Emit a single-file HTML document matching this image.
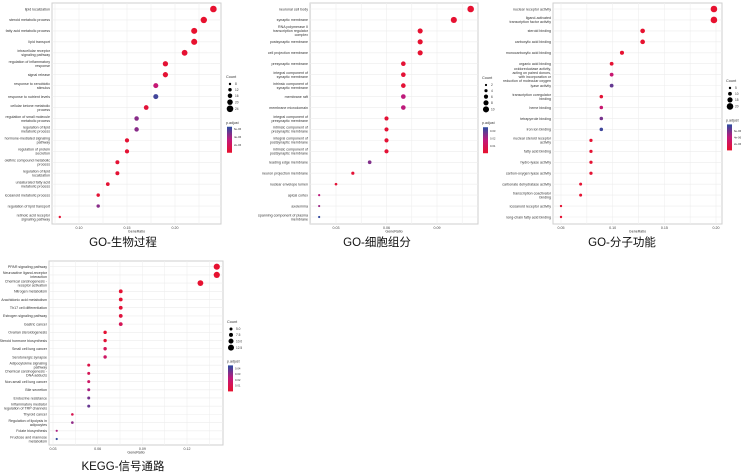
<!DOCTYPE html>
<html><head><meta charset="utf-8"><style>
body{margin:0;background:#fff;}
svg{display:block;font-family:"Liberation Sans","Noto Sans CJK SC",sans-serif;}
</style></head><body>
<svg id="chart" width="741" height="475" viewBox="0 0 741 475"></svg>
<script>
// ---- Panel 1: GO-BP ----
const bpTerms=["lipid localization","steroid metabolic process","fatty acid metabolic process","lipid transport","intracellular receptor\nsignaling pathway","regulation of inflammatory\nresponse","signal release","response to xenobiotic\nstimulus","response to nutrient levels","cellular ketone metabolic\nprocess","regulation of small molecule\nmetabolic process","regulation of lipid\nmetabolic process","hormone-mediated signaling\npathway","regulation of protein\nsecretion","olefinic compound metabolic\nprocess","regulation of lipid\nlocalization","unsaturated fatty acid\nmetabolic process","icosanoid metabolic process","regulation of lipid transport","retinoic acid receptor\nsignaling pathway"];
const bpRatio=[0.24,0.23,0.22,0.22,0.21,0.19,0.19,0.18,0.18,0.17,0.16,0.16,0.15,0.15,0.14,0.14,0.13,0.12,0.12,0.08];
const bpCount=[24,23,22,22,21,19,19,18,18,17,16,16,15,15,14,14,13,12,12,8];
const bpPadj=[1e-7,1e-7,1e-7,1e-7,2e-7,3e-7,3e-7,3e-6,6e-6,5e-7,4.5e-6,4.5e-6,3e-7,3e-7,3e-7,3e-7,3e-7,3e-7,4.5e-6,3e-7];
const bpTicks=[0.10,0.15,0.20];
const bpCountLegend=[8,12,16,20,24];
const bpPLegend=[6e-6,4e-6,2e-6];
const bpPLegendText=["6e-06","4e-06","2e-06"];
// ---- Panel 2: GO-CC ----
const ccTerms=["neuronal cell body","synaptic membrane","RNA polymerase II\ntranscription regulator\ncomplex","postsynaptic membrane","cell projection membrane","presynaptic membrane","integral component of\nsynaptic membrane","intrinsic component of\nsynaptic membrane","membrane raft","membrane microdomain","integral component of\npresynaptic membrane","intrinsic component of\npresynaptic membrane","integral component of\npostsynaptic membrane","intrinsic component of\npostsynaptic membrane","leading edge membrane","neuron projection membrane","nuclear envelope lumen","apical cortex","axolemma","spanning component of plasma\nmembrane"];
const ccRatio=[0.11,0.10,0.08,0.08,0.08,0.07,0.07,0.07,0.07,0.07,0.06,0.06,0.06,0.06,0.05,0.04,0.03,0.02,0.02,0.02];
const ccCount=[11,10,8,8,8,7,7,7,7,7,6,6,6,6,5,4,3,2,2,2];
const ccPadj=[0.001,0.001,0.001,0.001,0.001,0.002,0.002,0.002,0.018,0.018,0.002,0.002,0.002,0.002,0.025,0.002,0.002,0.018,0.022,0.034];
const ccTicks=[0.03,0.06,0.09];
const ccCountLegend=[2,4,6,8,10];
const ccPLegend=[0.03,0.02,0.01];
const ccPLegendText=["0.03","0.02","0.01"];
// ---- Panel 3: GO-MF ----
const mfTerms=["nuclear receptor activity","ligand-activated\ntranscription factor activity","steroid binding","carboxylic acid binding","monocarboxylic acid binding","organic acid binding","oxidoreductase activity,\nacting on paired donors,\nwith incorporation or\nreduction of molecular oxygen","lyase activity","transcription coregulator\nbinding","heme binding","tetrapyrrole binding","iron ion binding","nuclear steroid receptor\nactivity","fatty acid binding","hydro-lyase activity","carbon-oxygen lyase activity","carbonate dehydratase activity","transcription coactivator\nbinding","icosanoid receptor activity","long-chain fatty acid binding"];
const mfRatio=[0.198,0.198,0.129,0.129,0.109,0.099,0.099,0.099,0.089,0.089,0.089,0.089,0.079,0.079,0.079,0.079,0.069,0.069,0.05,0.05];
const mfCount=[20,20,13,13,11,10,10,10,9,9,9,9,8,8,8,8,7,7,5,5];
const mfPadj=[1e-7,1e-7,1e-7,1e-7,2e-7,3e-7,3.5e-6,6.5e-6,4e-7,3.5e-6,6e-6,7.5e-6,3e-7,3e-7,3e-7,3e-7,3e-7,3e-7,3e-7,3e-7];
const mfTicks=[0.05,0.10,0.15,0.20];
const mfCountLegend=[5,10,15,20];
const mfPLegend=[6e-6,4e-6,2e-6];
const mfPLegendText=["6e-06","4e-06","2e-06"];
// ---- Panel 4: KEGG ----
const kgTerms=["PPAR signaling pathway","Neuroactive ligand-receptor\ninteraction","Chemical carcinogenesis -\nreceptor activation","Nitrogen metabolism","Arachidonic acid metabolism","Th17 cell differentiation","Estrogen signaling pathway","Gastric cancer","Ovarian steroidogenesis","Steroid hormone biosynthesis","Small cell lung cancer","Serotonergic synapse","Adipocytokine signaling\npathway","Chemical carcinogenesis -\nDNA adducts","Non-small cell lung cancer","Bile secretion","Endocrine resistance","Inflammatory mediator\nregulation of TRP channels","Thyroid cancer","Regulation of lipolysis in\nadipocytes","Folate biosynthesis","Fructose and mannose\nmetabolism"];
const kgRatio=[0.14,0.14,0.129,0.0755,0.0755,0.0755,0.0755,0.0755,0.065,0.065,0.065,0.065,0.054,0.054,0.054,0.054,0.054,0.054,0.043,0.043,0.0325,0.0325];
const kgCount=[13,13,12,7,7,7,7,7,6,6,6,6,5,5,5,5,5,5,4,4,3,3];
const kgPadj=[0.001,0.001,0.001,0.002,0.002,0.003,0.005,0.012,0.002,0.003,0.012,0.016,0.008,0.012,0.016,0.026,0.034,0.036,0.01,0.03,0.026,0.044];
const kgTicks=[0.03,0.06,0.09,0.12];
const kgCountLegend=[5.0,7.5,10.0,12.5];
const kgCountLegendText=["5.0","7.5","10.0","12.5"];
const kgPLegend=[0.04,0.03,0.02,0.01];
const kgPLegendText=["0.04","0.03","0.02","0.01"];

const svg=document.getElementById('chart');
const NS='http://www.w3.org/2000/svg';
function mk(tag,attrs,parent){const e=document.createElementNS(NS,tag);for(const k in attrs)e.setAttribute(k,attrs[k]);(parent||svg).appendChild(e);return e;}
function lerp(a,b,t){return a.map((v,i)=>Math.round(v+(b[i]-v)*t));}
function colorOf(t){t=Math.max(0,Math.min(1,t));const r=[232,17,45],m=[194,24,122],b=[43,77,160];const c=t<0.5?lerp(r,m,t/0.5):lerp(m,b,(t-0.5)/0.5);return 'rgb('+c.join(',')+')';}

function panel(cfg){
  const g=mk('g',{});
  
  
  const L=cfg.box[0],T=cfg.box[1],R=cfg.box[2],B=cfg.box[3];
  const x=v=>cfg.x0px+(v-cfg.x0)*(cfg.x1px-cfg.x0px)/(cfg.x1-cfg.x0);
  const n=cfg.terms.length;
  const y=i=>cfg.yTop+i*(cfg.yBot-cfg.yTop)/(n-1);
  const bg=mk('rect',{x:L,y:T,width:R-L,height:B-T,fill:'#fff',stroke:'#cfcfcf','stroke-width':1},g);
  
  const step=cfg.ticks[1]-cfg.ticks[0];
  for(let v=cfg.ticks[0]-step;v<=cfg.ticks[cfg.ticks.length-1]+step;v+=step/2){
    const px=x(v);if(px<=L||px>=R)continue;
    mk('line',{x1:px,x2:px,y1:T,y2:B,stroke:'#efefef','stroke-width':0.6},g);
  }
  for(let i=0;i<n;i++)mk('line',{x1:L,x2:R,y1:y(i),y2:y(i),stroke:'#ececec','stroke-width':0.6},g);
  cfg.ticks.forEach(v=>{
    const t=mk('text',{x:x(v),y:B+5,'font-size':3.6,'text-anchor':'middle',fill:'#444'},g);
    t.textContent=v.toFixed(2);
    
  });
  const xt=mk('text',{x:(L+R)/2,y:B+8.5,'font-size':3.6,'text-anchor':'middle',fill:'#333'},g);
  xt.textContent='GeneRatio';
  const cMin=Math.min(...cfg.count),cMax=Math.max(...cfg.count);
  const rad=c=>cfg.rMin+(c-cMin)/(cMax-cMin||1)*(cfg.rMax-cfg.rMin);
  cfg.terms.forEach((term,i)=>{
    const lines=term.split('\n');
    const t=mk('text',{'font-size':3.6,'text-anchor':'end',fill:'#333'},g);
    
    lines.forEach((ln,k)=>{const s=mk('tspan',{x:L-2,y:y(i)+1.3+(k-(lines.length-1)/2)*4},t);s.textContent=ln;});
    const c=mk('circle',{cx:x(cfg.ratio[i]),cy:y(i),r:rad(cfg.count[i]),fill:colorOf(cfg.padj[i]/cfg.pMax)},g);
    
  });
  const lx=cfg.leg[0],ly=cfg.leg[1];
  const ct=mk('text',{x:lx-2,y:ly,'font-size':3.8,fill:'#333'},g);ct.textContent='Count';
  
  let yy=ly+6;
  cfg.countLegend.forEach((c,k)=>{
    const r=rad(c);
    const d=mk('circle',{cx:lx+2,cy:yy,r:r,fill:'#000'},g);
    
    const tt=mk('text',{x:lx+7,y:yy+1.2,'font-size':3.2,fill:'#333'},g);tt.textContent=cfg.countText?cfg.countText[k]:c;
    yy+=5+r*0.6;
  });
  const py=yy+8;
  const pt=mk('text',{x:lx-2,y:py,'font-size':3.6,fill:'#333'},g);pt.textContent='p.adjust';
  
  const id='grad'+cfg.name;
  const defs=mk('defs',{},g);const lg=mk('linearGradient',{id:id,x1:0,y1:0,x2:0,y2:1},defs);
  for(let k=0;k<=10;k++)mk('stop',{offset:k/10,'stop-color':colorOf(1-k/10)},lg);
  const bh=26,by=py+3;
  const bar=mk('rect',{x:lx-1,y:by,width:5,height:bh,fill:'url(#'+id+')'},g);
  
  cfg.pLegend.forEach((v,k)=>{
    const yv=by+bh*(1-v/cfg.pMax);
    const tt=mk('text',{x:lx+6,y:yv+1,'font-size':2.8,fill:'#333'},g);tt.textContent=cfg.pText[k];
  });
  const ti=mk('text',{x:cfg.title[0],y:cfg.title[1],'font-size':11.5,'text-anchor':'middle',fill:'#111'},g);
  ti.textContent=cfg.titleText;
}

panel({name:'go-bp-panel',terms:bpTerms,ratio:bpRatio,count:bpCount,padj:bpPadj,pMax:6.5e-6,ticks:bpTicks,
  box:[52,3,221,224],x0:0.10,x1:0.20,x0px:79,x1px:175,yTop:9,yBot:217,rMin:1.2,rMax:3.3,
  countLegend:bpCountLegend,pLegend:bpPLegend,pText:bpPLegendText,leg:[228,78],title:[123,246],titleText:'GO-生物过程'});
panel({name:'go-cc-panel',terms:ccTerms,ratio:ccRatio,count:ccCount,padj:ccPadj,pMax:0.035,ticks:ccTicks,
  box:[310,3,478,224],x0:0.03,x1:0.09,x0px:336,x1px:437,yTop:9,yBot:217,rMin:1.1,rMax:3.3,
  countLegend:ccCountLegend,pLegend:ccPLegend,pText:ccPLegendText,leg:[484,79],title:[377,246],titleText:'GO-细胞组分'});
panel({name:'go-mf-panel',terms:mfTerms,ratio:mfRatio,count:mfCount,padj:mfPadj,pMax:8e-6,ticks:mfTicks,
  box:[553,3,722,224],x0:0.05,x1:0.20,x0px:561,x1px:716,yTop:9,yBot:217,rMin:1.2,rMax:3.3,
  countLegend:mfCountLegend,pLegend:mfPLegend,pText:mfPLegendText,leg:[728,82],title:[622,246],titleText:'GO-分子功能'});
panel({name:'kegg-panel',terms:kgTerms,ratio:kgRatio,count:kgCount,padj:kgPadj,pMax:0.045,ticks:kgTicks,
  box:[49,261,223,445],x0:0.03,x1:0.12,x0px:53,x1px:187,yTop:266.7,yBot:439,rMin:1.1,rMax:3.1,
  countLegend:kgCountLegend,countText:kgCountLegendText,pLegend:kgPLegend,pText:kgPLegendText,leg:[229,323],title:[123,470],titleText:'KEGG-信号通路'});
</script>
</body></html>
